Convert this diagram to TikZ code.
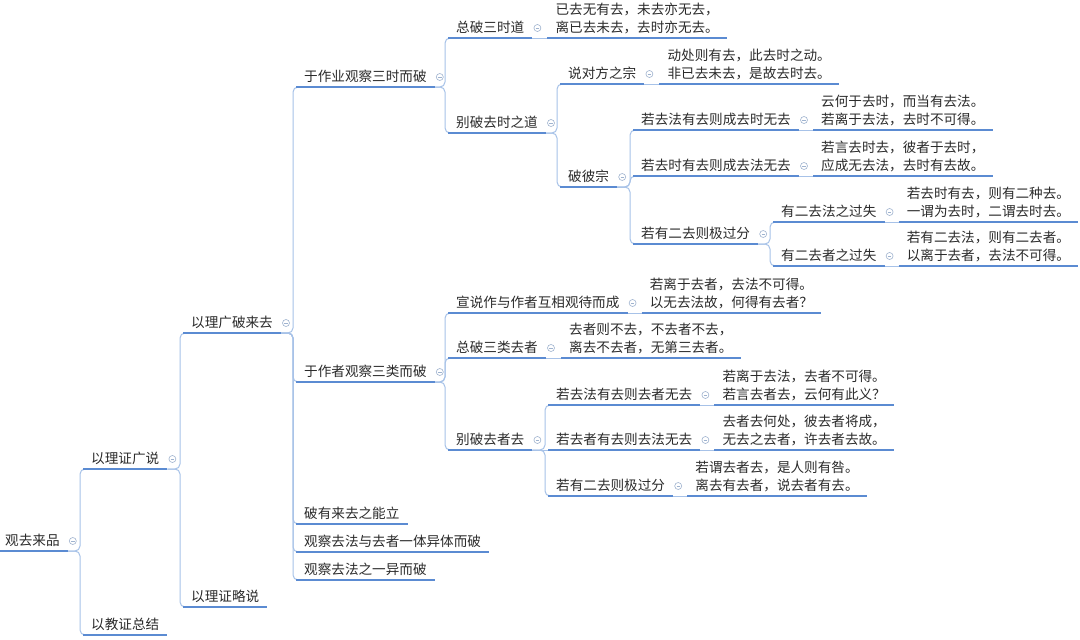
\documentclass[tikz,border=0pt]{standalone}
\usepackage{fontspec}
\setmainfont{Noto Sans CJK SC}
\usetikzlibrary{positioning}
\usepackage{xcolor}
\definecolor{lineblue}{HTML}{5B8BD2}
\definecolor{linkblue}{HTML}{A7C2E8}
\definecolor{foldgray}{HTML}{9FB3CF}
\definecolor{inkgray}{HTML}{2B2B2B}
\newcommand{\twolines}[2]{\begin{tabular}[b]{@{}l@{}}#1\\#2\end{tabular}}

\tikzset{
  box/.style={anchor=south west, inner xsep=8pt, inner ysep=3pt, text depth=2pt,
    text=inkgray, font=\fontsize{13.6}{18}\selectfont},
  topic/.style={box, text height=11pt},
  leaf/.style={box},
  uline/.style={draw=lineblue, line width=1.8pt},
  link/.style={draw=linkblue, line width=1pt},
  branch/.style={link, rounded corners=5pt},
  fold/.style={circle, draw=foldgray, line width=0.6pt, minimum size=7pt, inner sep=0pt,
    path picture={\draw[foldgray, line width=0.6pt]
      ([xshift=1.8pt]path picture bounding box.west) -- ([xshift=-1.8pt]path picture bounding box.east);}}
}

\begin{document}
\begin{tikzpicture}[x=1pt, y=-1pt]
  \useasboundingbox[fill=white] (0,0) rectangle (1080,640);
  % Root and first level
  \node[topic] (root)  at (-3,551) {观去来品};
  \node[topic] (guang) at (83,469) {以理证广说};
  \node[topic] (jiao)  at (83,635) {以教证总结};
  % Second level
  \node[topic] (pola)  at (183,333) {以理广破来去};
  \node[topic] (lue)   at (183,607) {以理证略说};
  % Third level
  \node[topic] (zuoye)  at (296,87)  {于作业观察三时而破};
  \node[topic] (zuozhe) at (296,382) {于作者观察三类而破};
  \node[topic] (nengli) at (296,524) {破有来去之能立};
  \node[topic] (yiti)   at (296,552) {观察去法与去者一体异体而破};
  \node[topic] (yiyi)   at (296,580) {观察去法之一异而破};
  % Three times
  \node[topic] (zongshi) at (448,38) {总破三时道};
  \node[leaf, right=15pt of zongshi.south east, anchor=south west] (lf1)
        {\twolines{已去无有去，未去亦无去，}{离已去未去，去时亦无去。}};
  \node[topic] (biequshi) at (448,133) {别破去时之道};
  \node[topic] (duifang) at (560,84) {说对方之宗};
  \node[leaf, right=15pt of duifang.south east, anchor=south west] (lf2)
        {\twolines{动处则有去，此去时之动。}{非已去未去，是故去时去。}};
  \node[topic] (pobi) at (560,187) {破彼宗};
  \node[topic] (qa) at (633,130) {若去法有去则成去时无去};
  \node[leaf, right=14pt of qa.south east, anchor=south west] (lf3)
        {\twolines{云何于去时，而当有去法。}{若离于去法，去时不可得。}};
  \node[topic] (qb) at (633,176) {若去时有去则成去法无去};
  \node[leaf, right=14pt of qb.south east, anchor=south west] (lf4)
        {\twolines{若言去时去，彼者于去时，}{应成无去法，去时有去故。}};
  \node[topic] (qc) at (633,244) {若有二去则极过分};
  \node[topic] (fa) at (773,222) {有二去法之过失};
  \node[leaf, right=14pt of fa.south east, anchor=south west] (lf5)
        {\twolines{若去时有去，则有二种去。}{一谓为去时，二谓去时去。}};
  \node[topic] (fb) at (773,266) {有二去者之过失};
  \node[leaf, right=14pt of fb.south east, anchor=south west] (lf6)
        {\twolines{若有二去法，则有二去者。}{以离于去者，去法不可得。}};
  % Three kinds of goer
  \node[topic] (xuan) at (448,313) {宣说作与作者互相观待而成};
  \node[leaf, right=14pt of xuan.south east, anchor=south west] (lf7)
        {\twolines{若离于去者，去法不可得。}{以无去法故，何得有去者？}};
  \node[topic] (zonglei) at (448,358) {总破三类去者};
  \node[leaf, right=15pt of zonglei.south east, anchor=south west] (lf8)
        {\twolines{去者则不去，不去者不去，}{离去不去者，无第三去者。}};
  \node[topic] (biequzhe) at (448,450) {别破去者去};
  \node[topic] (ra) at (548,405) {若去法有去则去者无去};
  \node[leaf, right=14pt of ra.south east, anchor=south west] (lf9)
        {\twolines{若离于去法，去者不可得。}{若言去者去，云何有此义？}};
  \node[topic] (rb) at (548,450) {若去者有去则去法无去};
  \node[leaf, right=14pt of rb.south east, anchor=south west] (lf10)
        {\twolines{去者去何处，彼去者将成，}{无去之去者，许去者去故。}};
  \node[topic] (rc) at (548,496) {若有二去则极过分};
  \node[leaf, right=14pt of rc.south east, anchor=south west] (lf11)
        {\twolines{若谓去者去，是人则有咎。}{离去有去者，说去者有去。}};
  % Branch curves
  \foreach \p/\c in {root/guang, root/jiao, guang/pola, guang/lue,
      pola/zuoye, pola/zuozhe, pola/nengli, pola/yiti, pola/yiyi,
      zuoye/zongshi, zuoye/biequshi, biequshi/duifang, biequshi/pobi,
      pobi/qa, pobi/qb, pobi/qc, qc/fa, qc/fb,
      zuozhe/xuan, zuozhe/zonglei, zuozhe/biequzhe, biequzhe/ra, biequzhe/rc}
    \draw[branch] (\p.south east) -| ([xshift=-3pt]\c.south west) -- ([xshift=8pt]\c.south west);
  \draw[link] (biequzhe.south east) -- (rb.south west);
  % Topic to text links
  \foreach \p/\c in {zongshi/lf1, duifang/lf2, qa/lf3, qb/lf4, fa/lf5, fb/lf6,
      xuan/lf7, zonglei/lf8, ra/lf9, rb/lf10, rc/lf11}
    \draw[link] (\p.south east) -- (\c.south west);
  % Underlines
  \foreach \n in {root, guang, jiao, pola, lue, zuoye, zuozhe, nengli, yiti, yiyi,
      zongshi, biequshi, duifang, pobi, qa, qb, qc, fa, fb, xuan, zonglei, biequzhe,
      ra, rb, rc, lf1, lf2, lf3, lf4, lf5, lf6, lf7, lf8, lf9, lf10, lf11}
    \draw[uline] (\n.south west) -- (\n.south east);
  % Fold markers
  \foreach \n in {root, guang, pola, zuoye, zuozhe, zongshi, biequshi, duifang, pobi,
      qa, qb, qc, fa, fb, xuan, zonglei, biequzhe, ra, rb, rc}
    \node[fold] (fold-\n) at ([xshift=5pt,yshift=10pt]\n.south east) {};
\end{tikzpicture}
\end{document}
